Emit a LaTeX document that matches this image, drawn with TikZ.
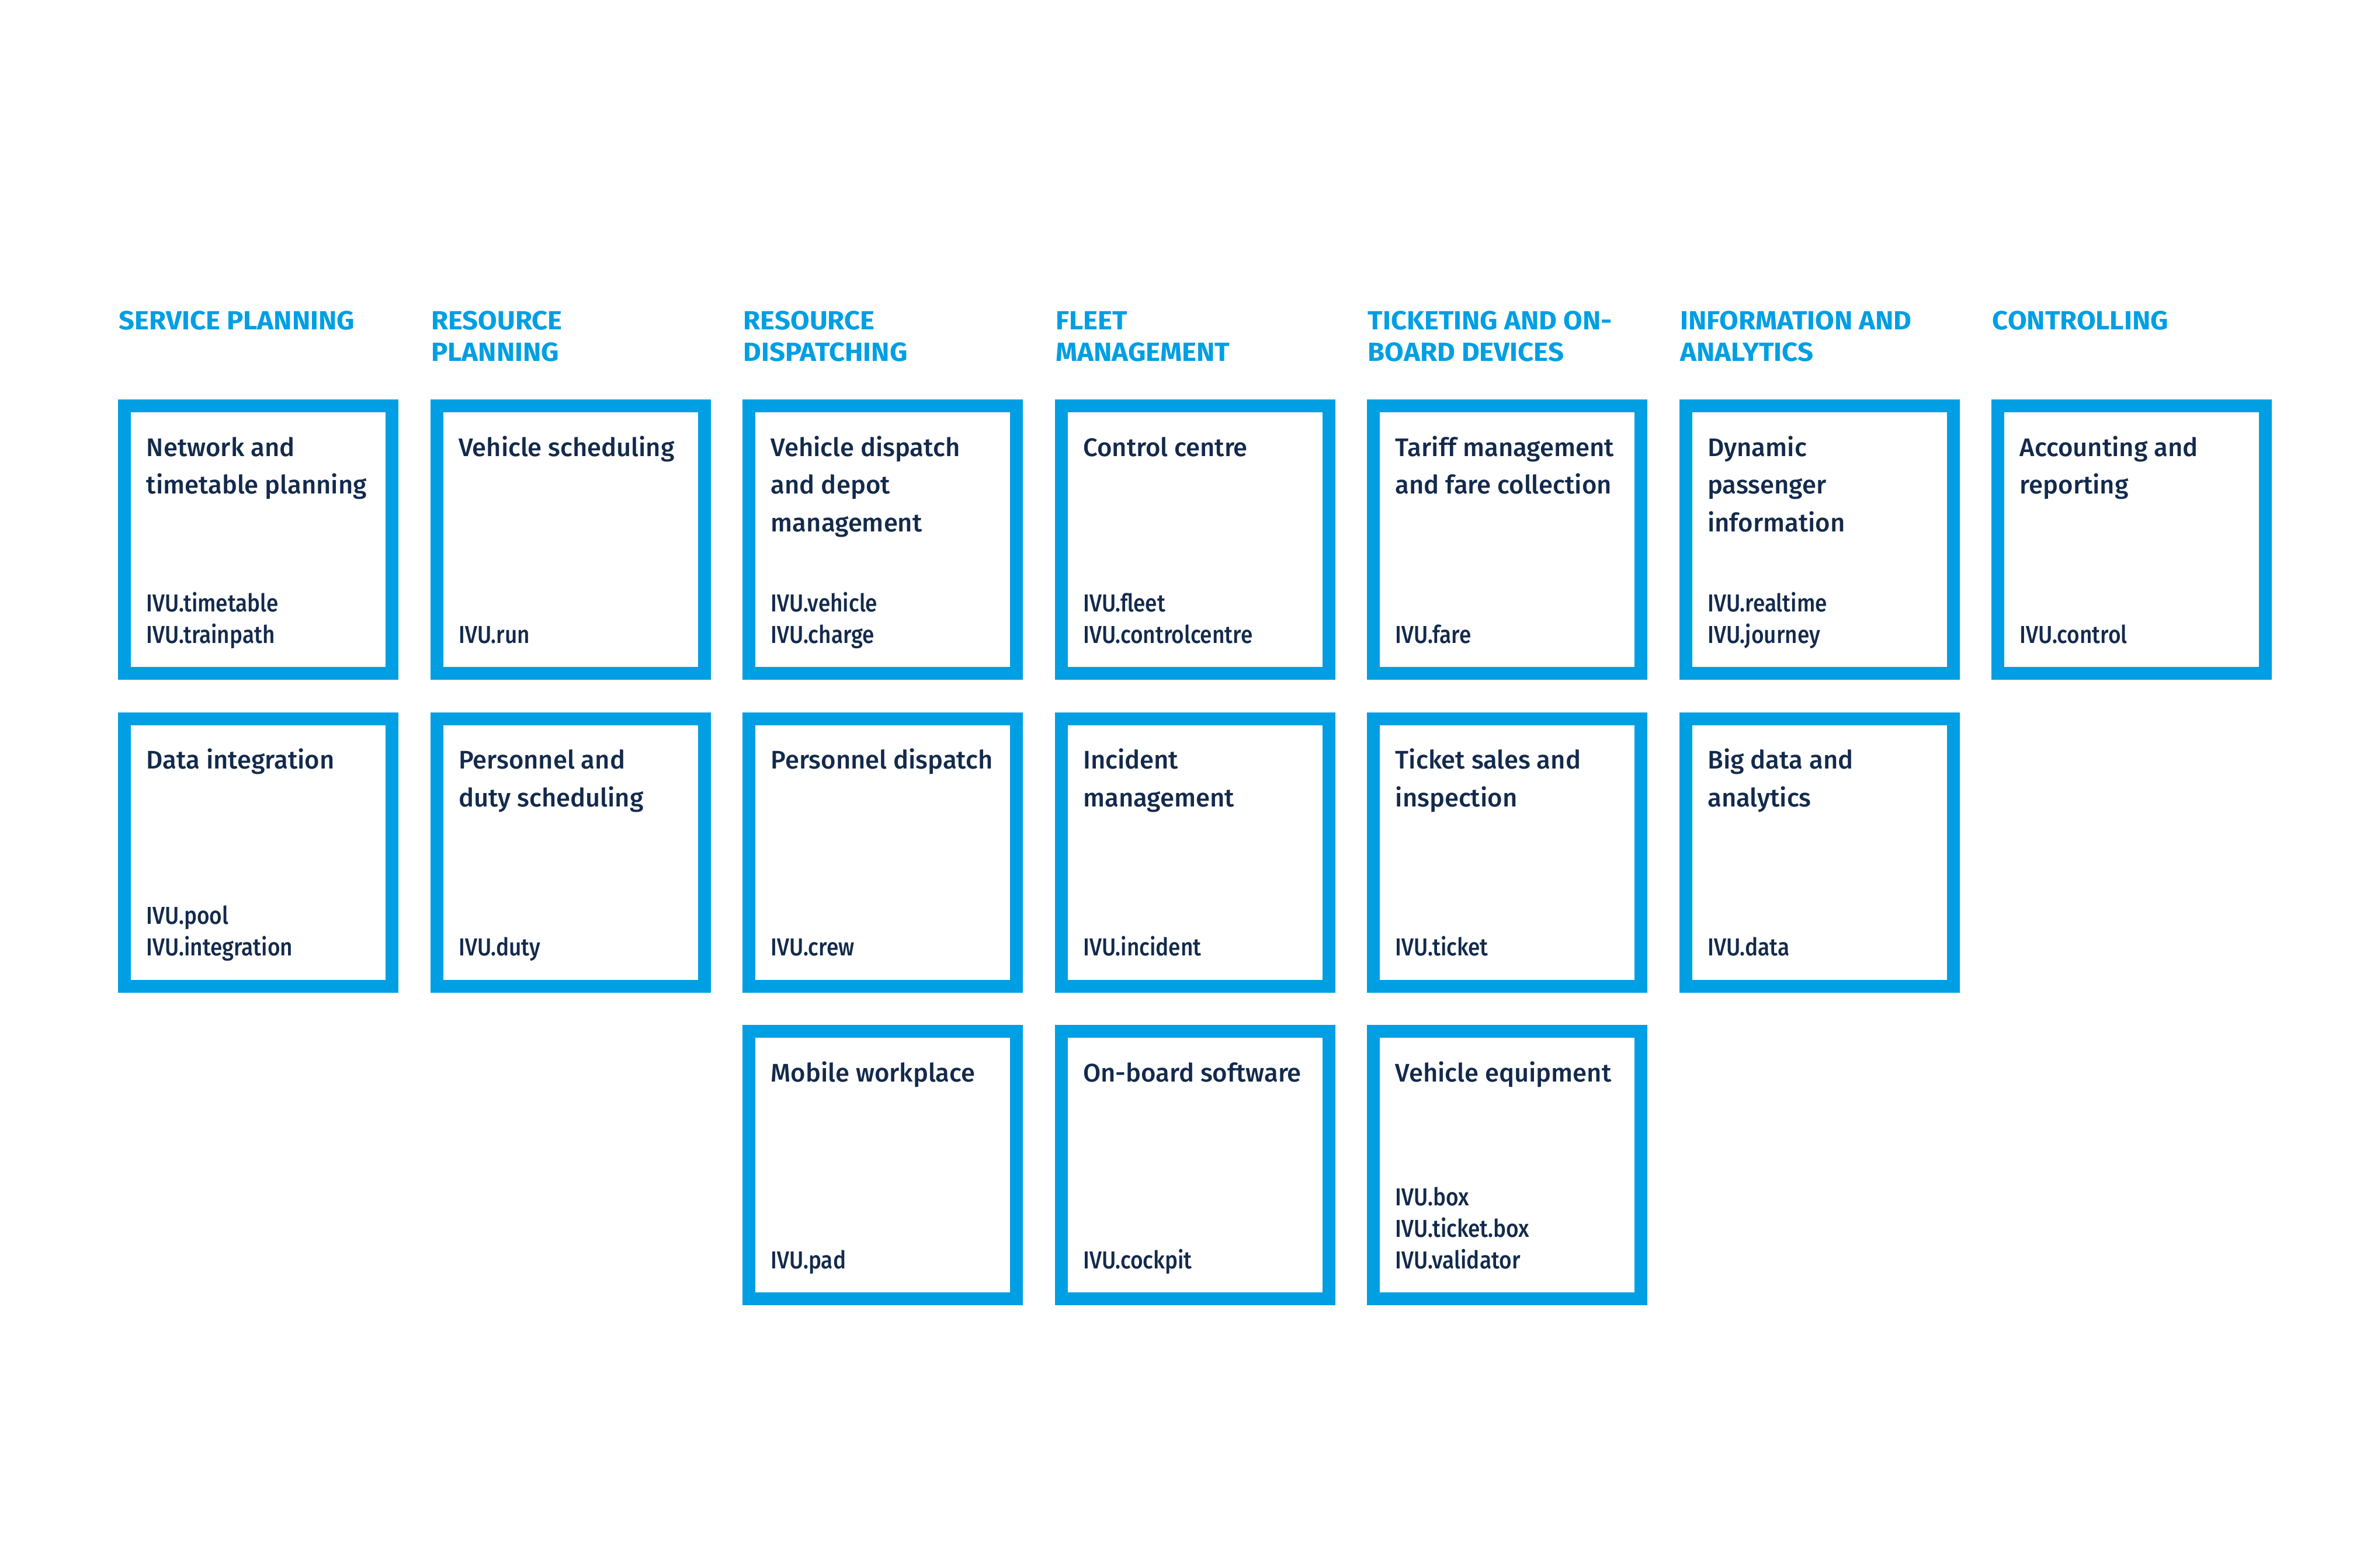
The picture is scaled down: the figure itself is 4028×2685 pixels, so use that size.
\documentclass[tikz,border=0pt]{standalone}
\usepackage{fontspec}
\setmainfont{Fira Sans}[UprightFont=* Medium]
\newfontfamily\hdrfamily[FakeStretch=1.05]{Fira Sans Bold}
\newfontfamily\prodfamily[FakeStretch=0.88,UprightFont=* Medium]{Fira Sans}
\definecolor{ivublue}{HTML}{009FE3}
\definecolor{ivunavy}{HTML}{132A4C}
\newcommand\toplines[1]{\begin{tabular}[t]{@{}l@{}}#1\end{tabular}}
\newcommand\botlines[1]{\begin{tabular}[b]{@{}l@{}}#1\end{tabular}}
\begin{document}
\begin{tikzpicture}[x=0.25pt,y=-0.25pt,
  box/.style={draw=ivublue, line width=5.5pt, fill=white, minimum width=114.5pt, minimum height=114.5pt, inner sep=0pt},
  ttl/.style={anchor=base west, inner sep=0pt, text=ivunavy, font=\fontsize{10.9}{16.2}\selectfont},
  prd/.style={anchor=base west, inner sep=0pt, text=ivunavy, font=\prodfamily\fontsize{10.5}{13.5}\selectfont},
  hdr/.style={anchor=base west, inner sep=0pt, text=ivublue, font=\hdrfamily\fontsize{11.25}{13.5}\selectfont}]
\useasboundingbox (0,0) rectangle (4028,2685);
\newcommand\ivubox[5]{%
  \node[box] (#1) at (#2+240,#3+240) {};
  \node[ttl] (#1-t) at ([shift={(48,97)}]#1.north west) {\toplines{#4}};
  \node[prd] (#1-p) at ([shift={(48,-63)}]#1.south west) {\botlines{#5}};
}
\newcommand\ivuhdr[3]{%
  \node[hdr] (#1) at ([shift={(1,-119)}]#2.north west) {\toplines{#3}};
}
% column 0
\ivubox{b00}{202}{684}{Network and\\timetable planning}{IVU.timetable\\IVU.trainpath}
\ivubox{b01}{202}{1219.5}{Data integration}{IVU.pool\\IVU.integration}
% column 1
\ivubox{b10}{736.5}{684}{Vehicle scheduling}{IVU.run}
\ivubox{b11}{736.5}{1219.5}{Personnel and\\duty scheduling}{IVU.duty}
% column 2
\ivubox{b20}{1271}{684}{Vehicle dispatch\\and depot\\management}{IVU.vehicle\\IVU.charge}
\ivubox{b21}{1271}{1219.5}{Personnel dispatch}{IVU.crew}
\ivubox{b22}{1271}{1755}{Mobile workplace}{IVU.pad}
% column 3
\ivubox{b30}{1805.5}{684}{Control centre}{IVU.fleet\\IVU.controlcentre}
\ivubox{b31}{1805.5}{1219.5}{Incident\\management}{IVU.incident}
\ivubox{b32}{1805.5}{1755}{On-board software}{IVU.cockpit}
% column 4
\ivubox{b40}{2340}{684}{Tariff management\\and fare collection}{IVU.fare}
\ivubox{b41}{2340}{1219.5}{Ticket sales and\\inspection}{IVU.ticket}
\ivubox{b42}{2340}{1755}{Vehicle equipment}{IVU.box\\IVU.ticket.box\\IVU.validator}
% column 5
\ivubox{b50}{2874.5}{684}{Dynamic\\passenger\\information}{IVU.realtime\\IVU.journey}
\ivubox{b51}{2874.5}{1219.5}{Big data and\\analytics}{IVU.data}
% column 6
\ivubox{b60}{3409}{684}{Accounting and\\reporting}{IVU.control}
% headers
\ivuhdr{h0}{b00}{SERVICE PLANNING}
\ivuhdr{h1}{b10}{RESOURCE\\PLANNING}
\ivuhdr{h2}{b20}{RESOURCE\\DISPATCHING}
\ivuhdr{h3}{b30}{FLEET\\MANAGEMENT}
\ivuhdr{h4}{b40}{TICKETING AND ON-\\BOARD DEVICES}
\ivuhdr{h5}{b50}{INFORMATION AND\\ANALYTICS}
\ivuhdr{h6}{b60}{CONTROLLING}
\end{tikzpicture}
\end{document}
